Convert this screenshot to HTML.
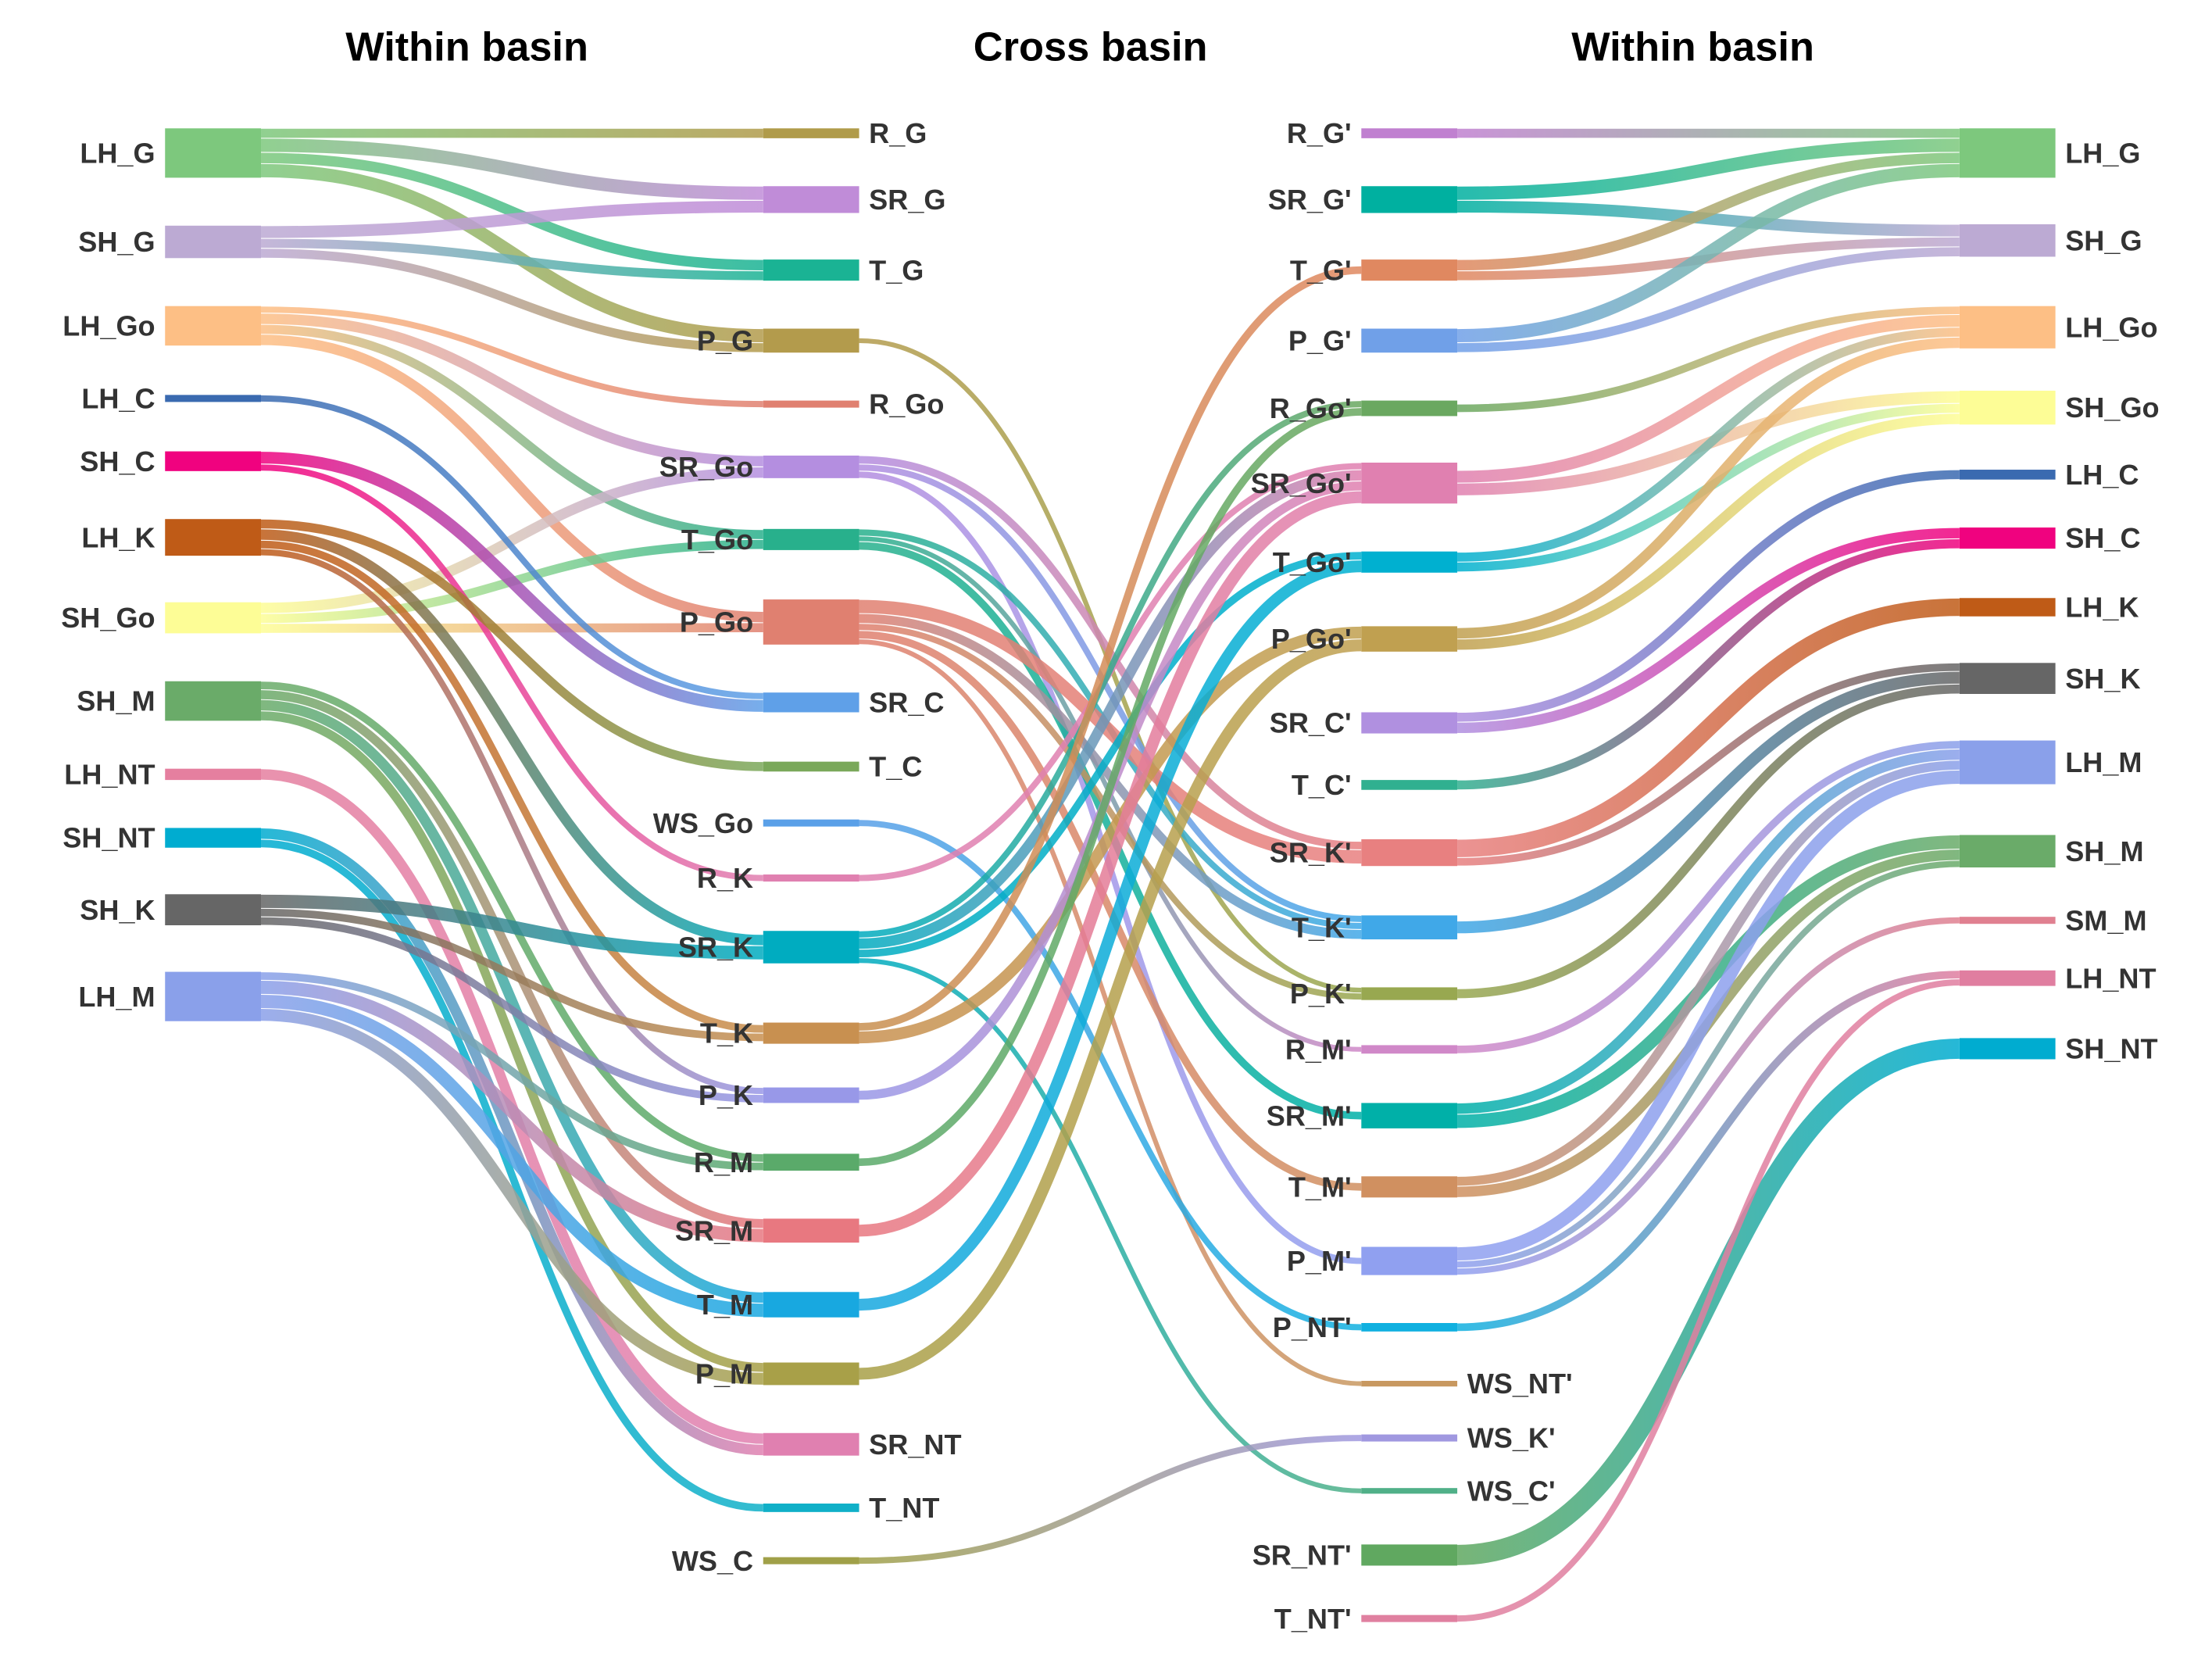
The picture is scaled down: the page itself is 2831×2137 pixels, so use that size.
<!DOCTYPE html>
<html><head><meta charset="utf-8"><title>Sankey</title>
<style>
html,body{margin:0;padding:0;background:#fff;}
svg{display:block;}
text{font-family:"Liberation Sans",sans-serif;}
</style></head>
<body>
<svg id="chart" width="2831" height="2137" viewBox="0 0 1568 1184" preserveAspectRatio="none" xmlns="http://www.w3.org/2000/svg">
<defs id="defs"></defs>
<text x="331" y="43" text-anchor="middle" font-size="29" font-weight="bold" fill="#000">Within basin</text>
<text x="773" y="43" text-anchor="middle" font-size="29" font-weight="bold" fill="#000">Cross basin</text>
<text x="1200" y="43" text-anchor="middle" font-size="29" font-weight="bold" fill="#000">Within basin</text>
<g id="links"></g>
<g id="nodes"></g>
</svg>
<script>
// ---- node data ----
const nodeIds = [
"LH_G","SH_G","LH_Go","LH_C","SH_C","LH_K","SH_Go","SH_M","LH_NT","SH_NT","SH_K","LH_M",
"R_G","SR_G","T_G","P_G","R_Go","SR_Go","T_Go","P_Go","SR_C","T_C","WS_Go","R_K","SR_K","T_K","P_K","R_M","SR_M","T_M","P_M","SR_NT","T_NT","WS_C",
"R_G'","SR_G'","T_G'","P_G'","R_Go'","SR_Go'","T_Go'","P_Go'","SR_C'","T_C'","SR_K'","T_K'","P_K'","R_M'","SR_M'","T_M'","P_M'","P_NT'","WS_NT'","WS_K'","WS_C'","SR_NT'","T_NT'",
"r:LH_G","r:SH_G","r:LH_Go","r:SH_Go","r:LH_C","r:SH_C","r:LH_K","r:SH_K","r:LH_M","r:SH_M","r:SM_M","r:LH_NT","r:SH_NT"];
const nodeCol = [0,0,0,0,0,0,0,0,0,0,0,0,
1,1,1,1,1,1,1,1,1,1,1,1,1,1,1,1,1,1,1,1,1,1,
2,2,2,2,2,2,2,2,2,2,2,2,2,2,2,2,2,2,2,2,2,2,2,
3,3,3,3,3,3,3,3,3,3,3,3,3];
const nodeTop = [91,160,217,280,320,368,427,483,545,587,634,689,
91,132,184,233,284,323,375,425,491,540,581,620,660,725,771,818,864,916,966,1016,1066,1104,
91,132,184,233,284,328,391,444,505,553,595,649,700,741,782,834,884,938,979,1017,1055,1095,1145,
91,159,217,277,333,374,424,470,525,592,650,688,736];
const nodeColor = ["#7dc87d","#bcaad3","#fdbf85","#3a6ab0","#f0027f","#bf5b17","#fdfd96","#6aab69","#e57f9f","#00acd0","#666666","#8aa0ea",
"#b09b4a","#c08cd8","#1ab394","#b39b4c","#e08070","#b48ee0","#28b08c","#e08070","#5fa0e8","#7aa85a","#5aa0e8","#e080b0","#00acc0","#c89050","#9898e8","#5aaa6a","#e87880","#18a8e0","#a8a048","#e080b0","#10b0c8","#a0a048",
"#c080d0","#00b0a0","#e08860","#70a0e8","#6aa860","#e080b0","#00b0d0","#c0a050","#b090e0","#30b090","#e88080","#40a8e8","#98a850","#d088c8","#00b0a8","#d09060","#90a0f0","#10b0e0","#c89860","#a098e0","#50b088","#60a860","#e080a0",
"#7dc87d","#bcaad3","#fdbf85","#fdfd96","#3a6ab0","#f0027f","#bf5b17","#666666","#8aa0ea","#6aab69","#e08090","#e07ea0","#00acd0"];
// ---- link data ----
const linkSource = [
"LH_G","LH_G","LH_G","LH_G","SH_G","SH_G","SH_G",
"LH_Go","LH_Go","LH_Go","LH_Go","SH_Go","SH_Go","SH_Go",
"LH_C","SH_C","SH_C","LH_K","LH_K","LH_K","LH_K",
"SH_M","SH_M","SH_M","SH_M","LH_NT","SH_NT","SH_NT","SH_K","SH_K","SH_K",
"LH_M","LH_M","LH_M","LH_M",
"P_G","SR_Go","SR_Go","SR_Go","T_Go","T_Go","T_Go","P_Go","P_Go","P_Go","P_Go","P_Go","WS_Go","R_K",
"SR_K","SR_K","SR_K","SR_K","T_K","T_K","P_K","R_M","SR_M","T_M","P_M","WS_C",
"R_G'","SR_G'","SR_G'","T_G'","T_G'","P_G'","P_G'","R_Go'","SR_Go'","SR_Go'","T_Go'","T_Go'","P_Go'","P_Go'",
"SR_C'","SR_C'","T_C'","SR_K'","SR_K'","T_K'","P_K'","R_M'","SR_M'","SR_M'","T_M'","T_M'","P_M'","P_M'","P_M'","P_NT'","SR_NT'","T_NT'"];
const linkTarget = [
"R_G","SR_G","T_G","P_G","SR_G","T_G","P_G",
"R_Go","SR_Go","T_Go","P_Go","SR_Go","T_Go","P_Go",
"SR_C","SR_C","R_K","T_C","SR_K","T_K","P_K",
"R_M","SR_M","T_M","P_M","SR_NT","SR_NT","T_NT","SR_K","T_K","P_K",
"R_M","SR_M","T_M","P_M",
"P_K'","SR_K'","T_K'","P_M'","T_K'","R_M'","SR_M'","SR_K'","T_K'","P_K'","T_M'","WS_NT'","P_NT'","SR_Go'",
"R_Go'","SR_Go'","T_Go'","WS_C'","T_G'","P_Go'","SR_Go'","R_Go'","SR_Go'","T_Go'","P_Go'","WS_K'",
"r:LH_G","r:LH_G","r:SH_G","r:LH_G","r:SH_G","r:LH_G","r:SH_G","r:LH_Go","r:LH_Go","r:SH_Go","r:LH_Go","r:SH_Go","r:LH_Go","r:SH_Go",
"r:LH_C","r:SH_C","r:SH_C","r:LH_K","r:SH_K","r:SH_K","r:SH_K","r:LH_M","r:LH_M","r:SH_M","r:LH_M","r:SH_M","r:LH_M","r:SH_M","r:SM_M","r:LH_NT","r:SH_NT","r:LH_NT"];
const linkValue = [
7,10,8,10,9,7,7,
5,8,7,8,8,7,7,
5,9,5,7,8,6,5,
6,7,8,7,8,8,6,10,6,6,
6,10,10,9,
4,6,5,5,5,4,6,10,7,5,6,4,5,5,
5,8,6,4,6,9,7,6,9,9,9,5,
7,10,9,8,7,10,7,6,9,9,7,7,8,8,
7,8,7,13,6,9,7,6,8,10,7,8,10,5,5,6,15,5];

const colX = [117,541,965,1389];
const NW = 68;
const NS = "http://www.w3.org/2000/svg";
const idx = {};
nodeIds.forEach((n,i)=>idx[n]=i);
const inSum = nodeIds.map(()=>0), outSum = nodeIds.map(()=>0);
linkSource.forEach((s,k)=>{outSum[idx[s]]+=linkValue[k]; inSum[idx[linkTarget[k]]]+=linkValue[k];});
const nodeH = nodeIds.map((n,i)=>Math.max(inSum[i],outSum[i],4));

// stacking
const ys = [], yt = [];
nodeIds.forEach((n,i)=>{
  const outs = linkSource.map((s,k)=>k).filter(k=>linkSource[k]===n).sort((a,b)=>nodeTop[idx[linkTarget[a]]]-nodeTop[idx[linkTarget[b]]]);
  let c = nodeTop[i] + (nodeH[i]-outSum[i])/2;
  outs.forEach(k=>{ys[k]=c+linkValue[k]/2; c+=linkValue[k];});
  const ins = linkTarget.map((s,k)=>k).filter(k=>linkTarget[k]===n).sort((a,b)=>nodeTop[idx[linkSource[a]]]-nodeTop[idx[linkSource[b]]]);
  c = nodeTop[i] + (nodeH[i]-inSum[i])/2;
  ins.forEach(k=>{yt[k]=c+linkValue[k]/2; c+=linkValue[k];});
});

const defs = document.getElementById('defs');
const gl = document.getElementById('links');
linkSource.forEach((s,k)=>{
  const si = idx[s], ti = idx[linkTarget[k]];
  const x1 = colX[nodeCol[si]]+NW, x2 = colX[nodeCol[ti]];
  const xm = (x1+x2)/2;
  const g = document.createElementNS(NS,'linearGradient');
  g.setAttribute('id','lg'+k);
  g.setAttribute('gradientUnits','userSpaceOnUse');
  g.setAttribute('x1',x1); g.setAttribute('x2',x2); g.setAttribute('y1',0); g.setAttribute('y2',0);
  g.innerHTML = '<stop offset="0" stop-color="'+nodeColor[si]+'"/><stop offset="1" stop-color="'+nodeColor[ti]+'"/>';
  defs.appendChild(g);
  const p = document.createElementNS(NS,'path');
  p.setAttribute('d','M'+x1+' '+ys[k]+' C'+xm+' '+ys[k]+' '+xm+' '+yt[k]+' '+x2+' '+yt[k]);
  p.setAttribute('fill','none');
  p.setAttribute('stroke','url(#lg'+k+')');
  p.setAttribute('stroke-width',Math.max(linkValue[k]-0.6,1));
  p.setAttribute('stroke-opacity','0.85');
  
  
  gl.appendChild(p);
});

const gn = document.getElementById('nodes');
nodeIds.forEach((n,i)=>{
  const c = nodeCol[i];
  const r = document.createElementNS(NS,'rect');
  r.setAttribute('x',colX[c]); r.setAttribute('y',nodeTop[i]);
  r.setAttribute('width',NW); r.setAttribute('height',nodeH[i]);
  r.setAttribute('fill',nodeColor[i]);
  
  
  gn.appendChild(r);
  const t = document.createElementNS(NS,'text');
  const label = n.replace(/^r:/,'');
  t.textContent = label;
  t.setAttribute('font-size','20');
  t.setAttribute('font-weight','bold');
  t.setAttribute('fill','#333');
  t.setAttribute('y',nodeTop[i]+nodeH[i]/2+7);
  let right;
  if (c===0) right=false; else if (c===3) right=true; else right = outSum[i]===0;
  if (right){ t.setAttribute('x',colX[c]+NW+7); t.setAttribute('text-anchor','start'); }
  else { t.setAttribute('x',colX[c]-7); t.setAttribute('text-anchor','end'); }
  
  
  gn.appendChild(t);
});
</script>
</body></html>
